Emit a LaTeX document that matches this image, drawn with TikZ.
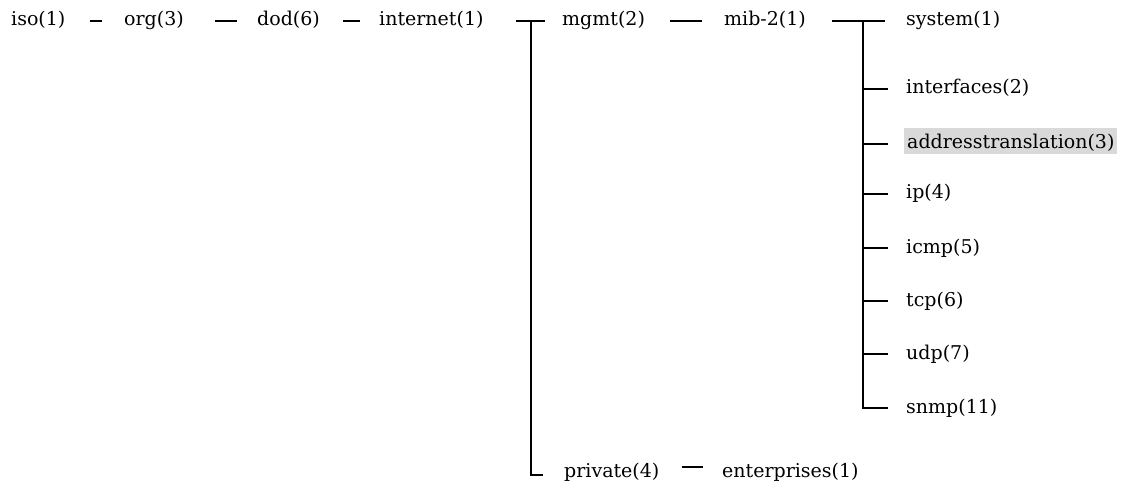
\documentclass[tikz,border=0pt]{standalone}
\usepackage{fontspec}
\setmainfont{DejaVu Serif}
\usetikzlibrary{calc}
\definecolor{hlgray}{HTML}{D9D9D9}
\begin{document}
\begin{tikzpicture}[x=1pt,y=-1pt,
  lbl/.style={anchor=west,inner xsep=0pt,inner ysep=0pt,text height=14pt,text depth=4pt,
    font=\fontsize{19}{22}\selectfont},
  hl/.style={lbl,fill=hlgray,inner xsep=3pt,text height=21pt,text depth=5pt},
  conn/.style={line width=1.8pt,black}]
\useasboundingbox (0,0) rectangle (1123,486);
% top row
\node[lbl] (iso) at (11,21) {iso(1)};
\node[lbl] (org) at (124,21) {org(3)};
\node[lbl] (dod) at (257,21) {dod(6)};
\node[lbl] (internet) at (379,21) {internet(1)};
\node[lbl] (mgmt) at (562,21) {mgmt(2)};
\node[lbl] (mib) at (724,21) {mib-2(1)};
% mib-2 children
\node[lbl] (system) at (906,21) {system(1)};
\node[lbl] (interfaces) at (906,89) {interfaces(2)};
\node[hl] (addr) at (904,141) {addresstranslation(3)};
\node[lbl] (ip) at (906,194) {ip(4)};
\node[lbl] (icmp) at (906,248) {icmp(5)};
\node[lbl] (tcp) at (906,301) {tcp(6)};
\node[lbl] (udp) at (906,354) {udp(7)};
\node[lbl] (snmp) at (906,408) {snmp(11)};
% private branch
\node[lbl] (private) at (564,472) {private(4)};
\node[lbl] (enterprises) at (722,472) {enterprises(1)};
% junction coordinates
\coordinate (tI) at (531,21);
\coordinate (bI) at (531,475);
\coordinate (tM) at (863,21);
\coordinate (bM) at (863,408);
% connectors
\draw[conn,shorten <=24pt,shorten >=22pt] (iso.east) -- (org.west);
\draw[conn,shorten <=31pt,shorten >=20pt] (org.east) -- (dod.west);
\draw[conn,shorten <=23pt,shorten >=19pt] (dod.east) -- (internet.west);
\draw[conn,shorten <=32pt,shorten >=17pt] (internet.east) -- (mgmt.west);
\draw[conn,shorten <=25pt,shorten >=22pt] (mgmt.east) -- (mib.west);
\draw[conn,shorten <=26pt,shorten >=21pt] (mib.east) -- (system.west);
\draw[conn,shorten >=21pt] (tI) -- (bI) -- (bI -| private.west);
\draw[conn,shorten <=22pt,shorten >=19pt] ($(private.east)+(0,-5)$) -- ($(enterprises.west)+(0,-5)$);
\draw[conn,shorten >=18pt] (tM) -- (bM) -- (snmp.west);
\foreach \n in {interfaces,ip,icmp,tcp,udp}
  \draw[conn,shorten >=18pt] (tM |- \n.west) -- (\n.west);
\draw[conn,shorten >=16pt] (tM |- 0,144) -- (addr.west |- 0,144);
\end{tikzpicture}
\end{document}
